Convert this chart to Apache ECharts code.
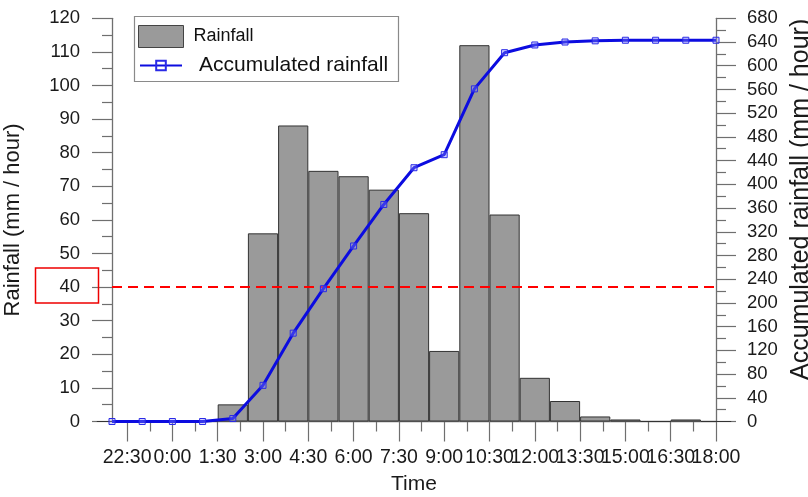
<!DOCTYPE html>
<html><head><meta charset="utf-8">
<script src="https://cdn.jsdelivr.net/npm/echarts@6/dist/echarts.min.js"></script>
<style>html,body{margin:0;padding:0;background:#fff}#c{width:808px;height:497px}</style>
</head><body><div id="c"></div>
<script>
// ---- data ----
const times = ['22:00','23:00','0:00','1:00','2:00','3:00','4:00','5:00','6:00','7:00','8:00','9:00','10:00','11:00','12:00','13:00','14:00','15:00','16:00','17:00','18:00'];
const rainfall = [0,0,0,0,5.1,56,88.1,74.6,73,69,62,21,112,61.6,13,6.1,1.5,0.6,0,0.6,0];
const accumulated = [0,0,0,0,5,61,149,224,296,366,428,450,561,622,635,640,642,643,643,643,643];
const xTickLabels = ['22:30','0:00','1:30','3:00','4:30','6:00','7:30','9:00','10:30','12:00','13:30','15:00','16:30','18:00'];
const leftAxis = {min: 0, max: 120, step: 10};
const rightAxis = {min: 0, max: 680, step: 40};
const threshold = 40;

// ---- helpers ----
const baseHour = Number(times[0].split(':')[0]);
function toOffset(label) {
  const [h, m] = label.split(':').map(Number);
  return ((h + m / 60 - baseHour) + 24) % 24;
}
const xMax = toOffset(times[times.length - 1]);
const majorVals = xTickLabels.map(toOffset);
const minorVals = [];
for (let i = 0; i < majorVals.length - 1; i++) minorVals.push((majorVals[i] + majorVals[i + 1]) / 2);
// labels split over two axes so that the library's min/max overlap check never hides one
const labelValsA = majorVals.filter((v, i) => i % 2 === 0);
const labelValsB = majorVals.filter((v, i) => i % 2 === 1);
function labelFor(v) {
  for (let i = 0; i < majorVals.length; i++) if (Math.abs(majorVals[i] - v) < 1e-6) return xTickLabels[i];
  return '';
}

const axisGray = '#6f6f6f';
const textColor = '#1a1a1a';
const font = "'Liberation Sans', Arial, sans-serif";
const xLabelStyle = {fontSize: 19.5, margin: 26, color: textColor, formatter: labelFor,
                     showMinLabel: true, showMaxLabel: true, hideOverlap: false};

const chart = echarts.init(document.getElementById('c'), null, {renderer: 'canvas'});
chart.setOption({
  animation: false,
  backgroundColor: '#fff',
  textStyle: {fontFamily: font, color: textColor},
  grid: {left: 112, right: 92, top: 18.3, bottom: 75.5, containLabel: false, outerBoundsMode: 'none'},
  legend: [
    {
      data: [{name: 'Rainfall', icon: 'rect', itemStyle: {borderWidth: 1, borderColor: '#444'}, textStyle: {fontSize: 18, color: '#111', padding: [0, 0, 0, 5]}}],
      left: 138, top: 25, padding: 0, itemWidth: 45, itemHeight: 22,
      selectedMode: false
    },
    {
      data: [{name: 'Accumulated rainfall', itemStyle: {color: 'rgba(255,255,255,0)'}, textStyle: {fontSize: 21, color: '#111', padding: [0, 0, 0, 12]}}],
      left: 139, top: 55, padding: 0, itemWidth: 42, itemHeight: 12,
      lineStyle: {width: 2}, selectedMode: false
    }
  ],
  graphic: [
    {type: 'rect', shape: {x: 134.5, y: 16.5, width: 264, height: 65}, style: {fill: 'none', stroke: '#8a8a8a', lineWidth: 1.2}, z: 100},
    {type: 'rect', shape: {x: 35.5, y: 268, width: 63, height: 35}, style: {fill: 'none', stroke: '#ee0000', lineWidth: 1.5}, z: 100}
  ],
  xAxis: [
    {type: 'category', data: times, boundaryGap: false, show: false},
    {
      type: 'value', min: 0, max: xMax, position: 'bottom',
      name: 'Time', nameLocation: 'middle', nameGap: 52,
      nameTextStyle: {fontSize: 21, color: textColor},
      axisLine: {show: true, onZero: false, lineStyle: {color: axisGray, width: 1.3}},
      axisTick: {show: true, inside: false, length: 20, customValues: majorVals, lineStyle: {color: axisGray, width: 1.2}},
      axisLabel: Object.assign({customValues: labelValsA}, xLabelStyle),
      splitLine: {show: false}
    },
    {
      type: 'value', min: 0, max: xMax, position: 'bottom',
      axisLine: {show: false, onZero: false},
      axisTick: {show: true, inside: false, length: 10, customValues: minorVals, lineStyle: {color: axisGray, width: 1.2}},
      axisLabel: Object.assign({customValues: labelValsB}, xLabelStyle),
      splitLine: {show: false}
    }
  ],
  yAxis: [
    {
      type: 'value', position: 'left', min: leftAxis.min, max: leftAxis.max, interval: leftAxis.step,
      name: 'Rainfall (mm / hour)', nameLocation: 'middle', nameGap: 88, nameRotate: 90,
      nameTextStyle: {fontSize: 22, color: textColor},
      axisLine: {show: true, onZero: false, lineStyle: {color: axisGray, width: 1.3}},
      axisTick: {show: true, inside: false, length: 20, lineStyle: {color: axisGray, width: 1.2}},
      minorTick: {show: true, splitNumber: 2, length: 10, lineStyle: {color: axisGray, width: 1.2}},
      axisLabel: {fontSize: 18.5, margin: 32, color: textColor},
      splitLine: {show: false}, minorSplitLine: {show: false}
    },
    {
      type: 'value', position: 'right', min: rightAxis.min, max: rightAxis.max, interval: rightAxis.step,
      name: 'Accumulated rainfall (mm / hour)', nameLocation: 'middle', nameGap: 69, nameRotate: 90,
      nameTextStyle: {fontSize: 25, color: textColor, padding: [0, 0, 0, 41]},
      axisLine: {show: true, onZero: false, lineStyle: {color: axisGray, width: 1.3}},
      axisTick: {show: true, inside: false, length: 20, lineStyle: {color: axisGray, width: 1.2}},
      minorTick: {show: true, splitNumber: 2, length: 10, lineStyle: {color: axisGray, width: 1.2}},
      axisLabel: {fontSize: 18.5, margin: 31, color: textColor},
      splitLine: {show: false}, minorSplitLine: {show: false}
    }
  ],
  series: [
    {
      name: 'Rainfall', type: 'bar', xAxisIndex: 0, yAxisIndex: 0,
      data: rainfall, barCategoryGap: '0%', barGap: '0%',
      itemStyle: {color: '#9a9a9a', borderColor: '#333', borderWidth: 1},
      markLine: {
        silent: true, symbol: 'none', label: {show: false},
        lineStyle: {color: '#ff0000', type: [10, 6], width: 2},
        data: [{yAxis: threshold}]
      }
    },
    {
      name: 'Accumulated rainfall', type: 'line', xAxisIndex: 0, yAxisIndex: 1,
      data: accumulated, symbol: 'rect', symbolSize: 6, showAllSymbol: true,
      lineStyle: {color: '#0c0ce0', width: 3},
      itemStyle: {color: 'rgba(140,140,255,0.35)', borderColor: '#2a2ae6', borderWidth: 1},
      z: 5
    }
  ]
});
</script>
</body></html>
